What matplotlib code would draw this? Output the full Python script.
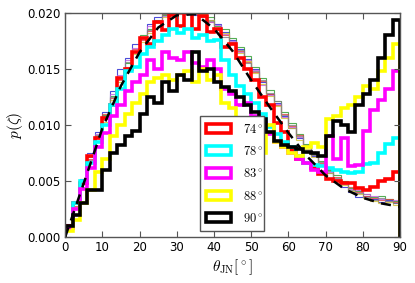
import numpy as np
import matplotlib
matplotlib.use("Agg")
import matplotlib.pyplot as plt
import matplotlib.patches as mpatches

plt.rcParams['mathtext.fontset'] = 'cm'
plt.rcParams['font.family'] = ['DejaVu Sans']

edges = np.arange(0, 92, 2)

thin_blue = [0.0012,0.0031,0.0052,0.0075,0.0094,0.0112,0.0130,0.0150,0.0160,0.0172,0.0178,0.0190,0.0196,0.0201,0.0199,0.0204,0.0201,0.0198,0.0197,0.0194,0.0190,0.0183,0.0176,0.0168,0.0159,0.0150,0.0138,0.0128,0.0120,0.0108,0.0097,0.0088,0.0081,0.0072,0.0064,0.0057,0.0051,0.0045,0.0040,0.0036,0.0037,0.0034,0.0031,0.0033,0.0030]
thin_green = [0.0010,0.0030,0.0050,0.0071,0.0090,0.0109,0.0126,0.0142,0.0155,0.0166,0.0180,0.0186,0.0194,0.0198,0.0203,0.0200,0.0205,0.0202,0.0199,0.0196,0.0188,0.0186,0.0178,0.0170,0.0162,0.0152,0.0142,0.0131,0.0121,0.0112,0.0102,0.0092,0.0083,0.0074,0.0068,0.0060,0.0055,0.0050,0.0044,0.0041,0.0038,0.0036,0.0037,0.0034,0.0032]
thin_red = [0.0011,0.0028,0.0049,0.0070,0.0088,0.0110,0.0124,0.0140,0.0152,0.0168,0.0176,0.0184,0.0192,0.0199,0.0201,0.0199,0.0202,0.0200,0.0196,0.0192,0.0187,0.0180,0.0172,0.0166,0.0156,0.0147,0.0139,0.0128,0.0118,0.0110,0.0099,0.0091,0.0082,0.0075,0.0066,0.0061,0.0054,0.0049,0.0045,0.0040,0.0037,0.0035,0.0033,0.0034,0.0031]
thin_violet = [0.0010,0.0032,0.0051,0.0072,0.0092,0.0107,0.0128,0.0145,0.0158,0.0169,0.0177,0.0188,0.0193,0.0197,0.0200,0.0202,0.0199,0.0201,0.0198,0.0192,0.0189,0.0181,0.0175,0.0165,0.0158,0.0149,0.0136,0.0127,0.0119,0.0107,0.0098,0.0089,0.0080,0.0073,0.0065,0.0058,0.0052,0.0047,0.0043,0.0042,0.0038,0.0037,0.0034,0.0032,0.0033]
thin_yellow = [0.0009,0.0027,0.0047,0.0067,0.0089,0.0103,0.0122,0.0138,0.0150,0.0163,0.0174,0.0182,0.0191,0.0196,0.0199,0.0201,0.0200,0.0203,0.0199,0.0194,0.0186,0.0182,0.0173,0.0164,0.0157,0.0146,0.0137,0.0126,0.0117,0.0106,0.0097,0.0087,0.0079,0.0071,0.0063,0.0057,0.0050,0.0046,0.0041,0.0038,0.0035,0.0032,0.0030,0.0031,0.0029]
thin_gray = [0.0011,0.0030,0.0048,0.0069,0.0091,0.0108,0.0125,0.0141,0.0156,0.0165,0.0179,0.0185,0.0193,0.0199,0.0202,0.0203,0.0200,0.0199,0.0197,0.0193,0.0185,0.0179,0.0174,0.0167,0.0155,0.0148,0.0140,0.0129,0.0121,0.0109,0.0100,0.0090,0.0082,0.0073,0.0067,0.0059,0.0053,0.0048,0.0042,0.0039,0.0036,0.0033,0.0035,0.0032,0.0030]

h74 = [0.0010,0.0030,0.0048,0.0072,0.0088,0.0106,0.0118,0.0142,0.0150,0.0165,0.0178,0.0172,0.0192,0.0185,0.0198,0.0188,0.0200,0.0186,0.0197,0.0183,0.0186,0.0170,0.0172,0.0160,0.0150,0.0140,0.0125,0.0118,0.0102,0.0094,0.0078,0.0070,0.0066,0.0062,0.0056,0.0052,0.0050,0.0048,0.0048,0.0044,0.0042,0.0045,0.0050,0.0052,0.0058]
h78 = [0.0009,0.0030,0.0050,0.0066,0.0085,0.0100,0.0118,0.0132,0.0148,0.0152,0.0163,0.0170,0.0175,0.0180,0.0186,0.0182,0.0186,0.0178,0.0180,0.0175,0.0176,0.0158,0.0145,0.0135,0.0128,0.0120,0.0110,0.0098,0.0092,0.0085,0.0080,0.0072,0.0066,0.0064,0.0063,0.0062,0.0060,0.0058,0.0057,0.0058,0.0065,0.0066,0.0075,0.0083,0.0088]
h83 = [0.0008,0.0025,0.0043,0.0062,0.0080,0.0093,0.0108,0.0118,0.0130,0.0138,0.0145,0.0158,0.0150,0.0165,0.0160,0.0158,0.0165,0.0155,0.0152,0.0158,0.0150,0.0132,0.0128,0.0118,0.0120,0.0108,0.0102,0.0092,0.0085,0.0080,0.0075,0.0070,0.0066,0.0060,0.0058,0.0090,0.0070,0.0088,0.0063,0.0064,0.0095,0.0113,0.0122,0.0132,0.0148]
h88 = [0.0005,0.0015,0.0030,0.0042,0.0058,0.0070,0.0090,0.0100,0.0110,0.0120,0.0128,0.0138,0.0142,0.0145,0.0140,0.0145,0.0148,0.0138,0.0150,0.0140,0.0145,0.0120,0.0115,0.0105,0.0098,0.0090,0.0075,0.0100,0.0085,0.0080,0.0075,0.0072,0.0080,0.0084,0.0080,0.0105,0.0108,0.0115,0.0118,0.0125,0.0135,0.0132,0.0148,0.0160,0.0172]
h90 = [0.0010,0.0020,0.0030,0.0042,0.0042,0.0060,0.0075,0.0082,0.0090,0.0095,0.0110,0.0125,0.0120,0.0138,0.0130,0.0145,0.0140,0.0165,0.0148,0.0150,0.0138,0.0134,0.0130,0.0125,0.0118,0.0112,0.0105,0.0094,0.0086,0.0082,0.0080,0.0079,0.0076,0.0075,0.0072,0.0090,0.0104,0.0100,0.0094,0.0118,0.0128,0.0140,0.0160,0.0180,0.0194]

curve_theta = [0, 5, 10, 15, 20, 25, 30, 35, 40, 45, 50, 55, 60, 65, 70, 75, 80, 85, 90]
curve_p = [0.0000, 0.0048, 0.0097, 0.0135, 0.0165, 0.0187, 0.0198, 0.0199, 0.0186, 0.0166, 0.0140, 0.0116, 0.0093, 0.0072, 0.0055, 0.0043, 0.0035, 0.0030, 0.0027]

thin_series = [thin_blue, thin_green, thin_red, thin_violet, thin_yellow, thin_gray]
thin_colors = ['#1f1fd0', '#2a9a2a', '#e04040', '#c060e0', '#d0c030', '#808080']

thick_series = [h74, h78, h83, h88, h90]
thick_labels = [r'$74^\circ$', r'$78^\circ$', r'$83^\circ$', r'$88^\circ$', r'$90^\circ$']
thick_colors = ['#ff0000', '#00ffff', '#ff00ff', '#ffff00', '#000000']

fig = plt.figure(figsize=(4.15, 2.83), dpi=100)
ax = fig.add_axes([0.157, 0.1625, 0.807, 0.7915])

for vals, c in zip(thin_series, thin_colors):
    ax.stairs(vals, edges, color=c, lw=0.8, alpha=0.8)

for vals, c, lab in zip(thick_series, thick_colors, thick_labels):
    ax.stairs(vals, edges, color=c, lw=2.6)

ax.plot(curve_theta, curve_p, color='black', ls=(0, (4, 3)), lw=1.8)

ax.set_xlim(0, 90)
ax.set_ylim(0, 0.020)
ax.set_xticks(np.arange(0, 91, 10))
ax.set_yticks([0.0, 0.005, 0.010, 0.015, 0.020])
ax.set_yticklabels(['0.000', '0.005', '0.010', '0.015', '0.020'])
ax.tick_params(direction='in', top=True, right=True, labelsize=8.5, length=4,
               color='#555555', pad=3)
for sp in ax.spines.values():
    sp.set_color('#555555')
    sp.set_linewidth(1.0)

ax.set_xlabel(r'$\theta_{\rm JN}[^\circ]$', fontsize=11, labelpad=2)
ax.set_ylabel(r'$p(\zeta)$', fontsize=11, labelpad=2)

handles = [mpatches.Patch(facecolor='none', edgecolor=c, lw=2.6, label=lab)
           for c, lab in zip(thick_colors, thick_labels)]
leg = ax.legend(handles=handles, loc='lower left',
                bbox_to_anchor=(0.403, 0.025, 0.19, 0.41),
                mode='expand', fontsize=9, fancybox=False, framealpha=1,
                handlelength=2.0, handleheight=0.75, borderpad=0.5,
                labelspacing=0.75, handletextpad=0.9, borderaxespad=0)
leg.get_frame().set_edgecolor('#555555')
leg.get_frame().set_linewidth(1.0)

fig.savefig('out.png', dpi=100)
